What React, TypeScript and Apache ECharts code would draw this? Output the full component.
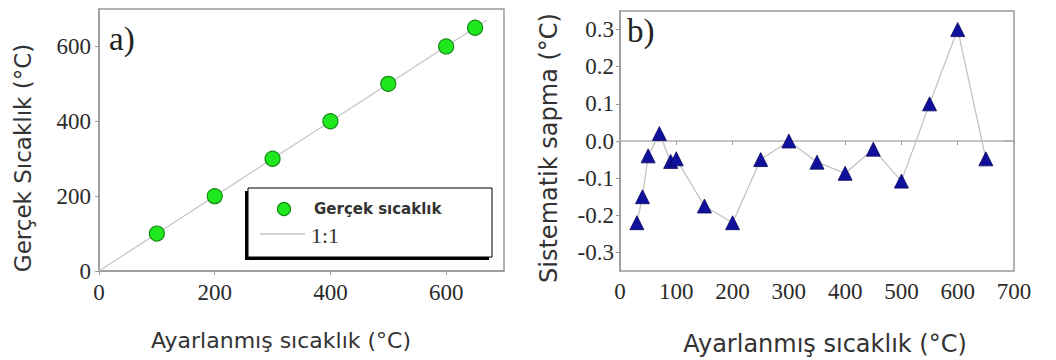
import React, { useEffect, useRef } from "react";
import * as echarts from "echarts";

// Panel a: calibrated vs. real temperature
const aSetTemps = [100, 200, 300, 400, 500, 600, 650];
const aRealTemps = [100, 200, 300, 400, 500, 600, 650];
const oneToOneX = [0, 670];
const aTicks = [0, 200, 400, 600];

// Panel b: systematic deviation
const bSetTemps = [30, 40, 50, 70, 90, 100, 150, 200, 250, 300, 350, 400, 450, 500, 550, 600, 650];
const bDeviation = [-0.22, -0.15, -0.04, 0.02, -0.055, -0.048, -0.175, -0.22, -0.05, 0.0, -0.057, -0.087, -0.022, -0.108, 0.1, 0.3, -0.048];
const zeroLineX = [0, 680];

const xTitle = "Ayarlanmış sıcaklık (°C)";
const aYTitle = "Gerçek Sıcaklık (°C)";
const bYTitle = "Sistematik sapma (°C)";
const legendNames = ["Gerçek sıcaklık", "1:1"];

const FRAME = "#9a9a9a";
const LABEL = "#2a2a2a";
const SERIF = "'Liberation Serif', 'DejaVu Serif', serif";
const SANS = "'DejaVu Sans', 'Liberation Sans', Arial, sans-serif";

export default function App() {
  const ref = useRef<HTMLDivElement>(null);
  useEffect(() => {
    const chart = echarts.init(ref.current!, null, { renderer: "svg" });
    const axisCommon = {
      axisLine: { show: true, lineStyle: { color: FRAME, width: 1.5 } },
      axisTick: { show: true, inside: false, length: 4, lineStyle: { color: FRAME, width: 1 } },
      splitLine: { show: false },
    };
    const labelA = { color: LABEL, fontFamily: SERIF, fontSize: 23 };
    const labelB = { color: LABEL, fontFamily: SERIF, fontSize: 23 };
    chart.setOption({
      animation: false,
      backgroundColor: "#ffffff",
      grid: [
        { left: 99, top: 9, width: 405, height: 262, show: true, borderColor: FRAME, borderWidth: 1.5, backgroundColor: "#fff" },
        { left: 620, top: 11, width: 394, height: 260, show: true, borderColor: FRAME, borderWidth: 1.5, backgroundColor: "#fff" },
      ],
      xAxis: [
        {
          gridIndex: 0, type: "value", min: 0, max: 700, interval: 200,
          ...axisCommon,
          axisLabel: { ...labelA, margin: 10, showMaxLabel: false,
            formatter: (v: number) => (aTicks.includes(v) ? String(v) : "") },
        },
        {
          gridIndex: 1, type: "value", min: 0, max: 700, interval: 100,
          ...axisCommon,
          axisLabel: { ...labelB, margin: 9 },
        },
      ],
      yAxis: [
        {
          gridIndex: 0, type: "value", min: 0, max: 700, interval: 200,
          ...axisCommon,
          axisLabel: { ...labelA, margin: 8, showMaxLabel: false,
            formatter: (v: number) => (aTicks.includes(v) ? String(v) : "") },
        },
        {
          gridIndex: 1, type: "value", min: -0.35, max: 0.35, splitNumber: 7,
          ...axisCommon,
          axisLabel: { ...labelB, margin: 6, showMinLabel: false, showMaxLabel: false,
            formatter: (v: number) => {
              const t = v * 10;
              if (Math.abs(t - Math.round(t)) > 1e-6) return "";
              return v.toFixed(1);
            } },
        },
      ],
      series: [
        {
          name: legendNames[1], type: "line", xAxisIndex: 0, yAxisIndex: 0,
          data: oneToOneX.map((x) => [x, x]), symbol: "none",
          lineStyle: { color: "#c6c6c6", width: 1.3 }, z: 2,
        },
        {
          name: legendNames[0], type: "scatter", xAxisIndex: 0, yAxisIndex: 0,
          data: aSetTemps.map((x, i) => [x, aRealTemps[i]]), symbol: "circle", symbolSize: 15,
          itemStyle: { color: "#1fe81f", borderColor: "#178a17", borderWidth: 1.2, opacity: 1 }, z: 3,
        },
        {
          type: "line", xAxisIndex: 1, yAxisIndex: 1,
          data: zeroLineX.map((x) => [x, 0]), symbol: "none",
          lineStyle: { color: "#d4d4d4", width: 1 }, z: 1,
        },
        {
          type: "line", xAxisIndex: 1, yAxisIndex: 1,
          data: bSetTemps.map((x, i) => [x, bDeviation[i]]), symbol: "triangle", symbolSize: 14,
          lineStyle: { color: "#c2c2c2", width: 1.3 },
          itemStyle: { color: "#10109c", borderColor: "#08085e", borderWidth: 0.8, opacity: 1 }, z: 3,
        },
      ],
      graphic: [
        { type: "text", left: 109, top: 22, style: { text: "a)", font: `33px ${SERIF}`, fill: "#222" }, z: 10 },
        { type: "text", left: 627, top: 14, style: { text: "b)", font: `33px ${SERIF}`, fill: "#222" }, z: 10 },
        { type: "text", x: 281, y: 340, style: { text: xTitle, font: `22px ${SANS}`, fill: "#333", align: "center", verticalAlign: "middle" } },
        { type: "text", x: 825, y: 344, style: { text: xTitle, font: `24px ${SANS}`, fill: "#333", align: "center", verticalAlign: "middle" } },
        { type: "text", x: 23, y: 158, rotation: Math.PI / 2, style: { text: aYTitle, font: `23px ${SANS}`, fill: "#333", align: "center", verticalAlign: "middle" } },
        { type: "text", x: 549, y: 148, rotation: Math.PI / 2, style: { text: bYTitle, font: `24px ${SANS}`, fill: "#333", align: "center", verticalAlign: "middle" } },
        // legend box with shadow
        { type: "rect", shape: { x: 245, y: 191, width: 244, height: 69 }, style: { fill: "#000" }, z: 10 },
        { type: "rect", shape: { x: 248, y: 188, width: 244, height: 69 }, style: { fill: "#fff", stroke: "#000", lineWidth: 1 }, z: 11 },
        { type: "circle", shape: { cx: 284, cy: 209, r: 6.5 }, style: { fill: "#1fe81f", stroke: "#178a17", lineWidth: 1.2 }, z: 12 },
        { type: "text", x: 314, y: 209, style: { text: legendNames[0], font: `bold 15px ${SANS}`, fill: "#333", verticalAlign: "middle" }, z: 12 },
        { type: "line", shape: { x1: 260, y1: 234, x2: 305, y2: 234 }, style: { stroke: "#c6c6c6", lineWidth: 1.3 }, z: 12 },
        { type: "text", x: 311, y: 235, style: { text: legendNames[1], font: `22px ${SERIF}`, fill: "#333", verticalAlign: "middle" }, z: 12 },
      ],
    });
    return () => chart.dispose();
  }, []);
  return <div ref={ref} style={{ position: "fixed", left: 0, top: 0, width: 1056, height: 360, background: "#fff" }} />;
}
